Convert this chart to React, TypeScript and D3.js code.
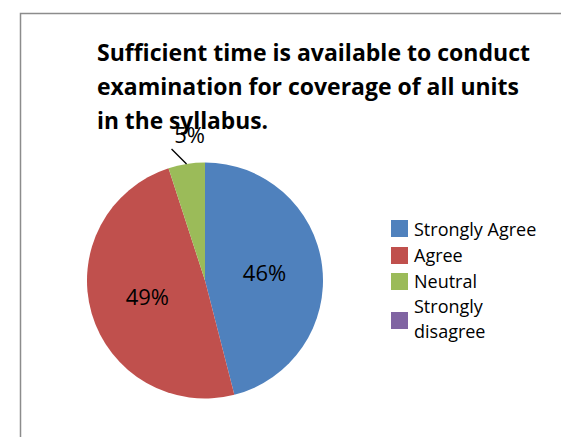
import React from "react";
import * as d3 from "d3";

const categories = ["Strongly Agree", "Agree", "Neutral", "Strongly disagree"];
const values = [46, 49, 5, 0];
const labels = ["46%", "49%", "5%", ""];
const colors = ["#4F81BD", "#C0504D", "#9BBB59", "#8064A2"];
const titleLines = [
  "Sufficient time is available to conduct",
  "examination for coverage of all units",
  "in the syllabus.",
];
const titleWidths = [433, 422, 171];
const legendLines = [["Strongly Agree"], ["Agree"], ["Neutral"], ["Strongly", "disagree"]];

const W = 561;
const H = 437;
const FONT = "'Open Sans', 'Liberation Sans', sans-serif";

export default function App() {
  const cx = 205;
  const cy = 280.5;
  const r = 118;
  const pie = d3.pie<number>().sort(null).value((d) => d)(values);
  const arc = d3.arc<d3.PieArcDatum<number>>().innerRadius(0).outerRadius(r);
  const labelArc = d3.arc<d3.PieArcDatum<number>>().innerRadius(0).outerRadius(120);

  const legendX = 391;
  const legendRowsY = [220, 247, 273, 312];
  const legendTextY = [[236], [262], [288], [313, 338]];

  return (
    <svg
      width={W}
      height={H}
      style={{ position: "absolute", left: 0, top: 0, background: "#fff" }}
    >
      <rect x={0} y={0} width={W} height={H} fill="#fff" />
      <path d={`M20.5,${H} L20.5,13.5 L${W},13.5`} fill="none" stroke="#8c8c8c" strokeWidth={1.5} />
      {titleLines.map((t, i) => (
        <text
          key={i}
          x={97}
          y={61 + i * 34}
          fontFamily={FONT}
          fontWeight={700}
          fontSize={24}
          fill="#000"
          textLength={titleWidths[i]}
          lengthAdjust="spacingAndGlyphs"
        >
          {t}
        </text>
      ))}
      <g transform={`translate(${cx},${cy})`}>
        {pie.map((p, i) =>
          p.value > 0 ? <path key={i} d={arc(p) || ""} fill={colors[i]} /> : null
        )}
        {pie.map((p, i) => {
          if (p.value <= 0) return null;
          if (p.value < 10) {
            const mid = (p.startAngle + p.endAngle) / 2;
            const ex = Math.sin(mid) * r;
            const ey = -Math.cos(mid) * r;
            return (
              <g key={"l" + i}>
                <line x1={ex - 15} y1={ey - 15} x2={ex} y2={ey} stroke="#000" strokeWidth={1.3} />
                <text x={ex + 3} y={ey - 21} textAnchor="middle" fontFamily={FONT} fontSize={22} fill="#000">
                  {labels[i]}
                </text>
              </g>
            );
          }
          const [lx, ly] = labelArc.centroid(p);
          return (
            <text
              key={"l" + i}
              x={lx}
              y={ly}
              dy="0.35em"
              textAnchor="middle"
              fontFamily={FONT}
              fontSize={22}
              fill="#000"
            >
              {labels[i]}
            </text>
          );
        })}
      </g>
      {categories.map((c, i) => (
        <g key={c}>
          <rect x={legendX} y={legendRowsY[i]} width={17} height={17} fill={colors[i]} />
          {legendLines[i].map((ln, j) => (
            <text key={j} x={414} y={legendTextY[i][j]} fontFamily={FONT} fontSize={18} fill="#000">
              {ln}
            </text>
          ))}
        </g>
      ))}
    </svg>
  );
}
